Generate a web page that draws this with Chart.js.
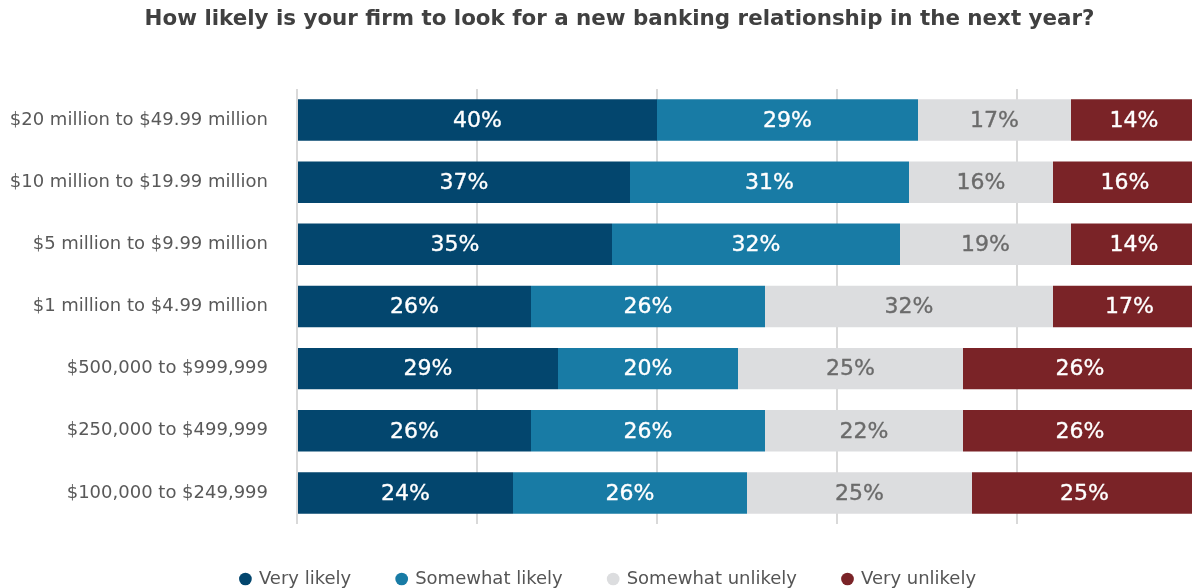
<!DOCTYPE html>
<html>
<head>
<meta charset="utf-8">
<script src="https://cdn.jsdelivr.net/npm/chart.js@4/dist/chart.umd.min.js"></script>
<style>
  html, body { margin: 0; padding: 0; background: #ffffff; overflow: hidden; }
  #wrap { width: 1210px; height: 600px; }
</style>
</head>
<body>
<div id="wrap"><canvas id="chart" width="1210" height="600"></canvas></div>
<script>
const titleText = 'How likely is your firm to look for a new banking relationship in the next year?';

const categories = [
  '$20 million to $49.99 million',
  '$10 million to $19.99 million',
  '$5 million to $9.99 million',
  '$1 million to $4.99 million',
  '$500,000 to $999,999',
  '$250,000 to $499,999',
  '$100,000 to $249,999'
];

const seriesNames = ['Very likely', 'Somewhat likely', 'Somewhat unlikely', 'Very unlikely'];

const veryLikely       = [40, 37, 35, 26, 29, 26, 24];
const somewhatLikely   = [29, 31, 32, 26, 20, 26, 26];
const somewhatUnlikely = [17, 16, 19, 32, 25, 22, 25];
const veryUnlikely     = [14, 16, 14, 17, 26, 26, 25];

const xTicks = [0, 20, 40, 60, 80, 100];

const fills      = ['#03466e', '#187ba5', '#dcdddf', '#7a2327'];
const labelInks  = ['#ffffff', '#ffffff', '#6b6b6b', '#ffffff'];
const FONT = '"DejaVu Sans", "Open Sans", sans-serif';

// Writes each segment's percentage in the middle of its bar,
// with a hairline stroke to give the figures a medium weight.
const segmentLabels = {
  id: 'segmentLabels',
  afterDatasetsDraw(chart) {
    const ctx = chart.ctx;
    ctx.save();
    ctx.font = 'normal 22px ' + FONT;
    ctx.textAlign = 'center';
    ctx.textBaseline = 'middle';
    ctx.lineWidth = 0.35;
    ctx.lineJoin = 'round';
    chart.data.datasets.forEach((ds, di) => {
      const meta = chart.getDatasetMeta(di);
      meta.data.forEach((bar, i) => {
        const cx = (bar.x + bar.base) / 2;
        const txt = ds.data[i] + '%';
        ctx.fillStyle = labelInks[di];
        ctx.strokeStyle = labelInks[di];
        ctx.fillText(txt, cx, bar.y + 1);
        ctx.strokeText(txt, cx, bar.y + 1);
      });
    });
    ctx.restore();
  }
};

// Centres the title and legend a little to the right of the canvas middle.
const headerFooterShift = {
  id: 'headerFooterShift',
  afterLayout(chart) {
    if (chart.titleBlock) { chart.titleBlock.left += 21; chart.titleBlock.right += 21; }
    if (chart.legend) { chart.legend.left += 10; chart.legend.right += 10; }
  }
};

const seriesData = [veryLikely, somewhatLikely, somewhatUnlikely, veryUnlikely];

new Chart(document.getElementById('chart'), {
  type: 'bar',
  data: {
    labels: categories,
    datasets: seriesNames.map((name, k) => ({
      label: name,
      data: seriesData[k],
      backgroundColor: fills[k],
      borderWidth: 0,
      categoryPercentage: 1,
      barPercentage: 0.667
    }))
  },
  options: {
    indexAxis: 'y',
    responsive: false,
    devicePixelRatio: 1,
    animation: false,
    layout: { padding: { left: 0, right: 13, top: 0, bottom: 2 } },
    scales: {
      x: {
        stacked: true,
        min: 0,
        max: 100,
        afterBuildTicks(scale) { scale.ticks = xTicks.map(v => ({ value: v })); },
        afterFit(scale) { scale.height = 0; },
        ticks: { display: false },
        grid: { color: '#d9d9d9', lineWidth: 2, drawTicks: false },
        border: { display: false }
      },
      y: {
        stacked: true,
        afterFit(scale) { scale.width = 297; },
        ticks: {
          padding: 29,
          color: '#595959',
          font: { family: FONT, size: 18 }
        },
        grid: { display: false, drawTicks: false },
        border: { display: false }
      }
    },
    plugins: {
      title: {
        display: true,
        text: titleText,
        color: '#404040',
        font: { family: FONT, size: 21.4, weight: 'bold' },
        padding: { top: 7, bottom: 56.3 }
      },
      legend: {
        position: 'bottom',
        labels: {
          usePointStyle: true,
          pointStyle: 'circle',
          boxWidth: 9,
          boxHeight: 9,
          padding: 46,
          color: '#555555',
          font: { family: FONT, size: 18 }
        }
      },
      tooltip: { enabled: false }
    }
  },
  plugins: [segmentLabels, headerFooterShift]
});
</script>
</body>
</html>
